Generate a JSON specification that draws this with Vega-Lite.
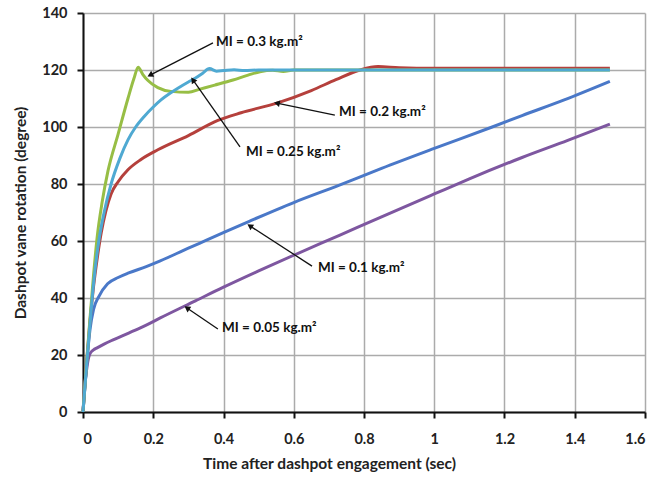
{
  "$schema": "https://vega.github.io/schema/vega-lite/v6.json",
  "width": 562,
  "height": 399,
  "autosize": "none",
  "padding": {"left": 83, "top": 13, "right": 26, "bottom": 65},
  "background": "white",
  "config": {
    "view": {"stroke": null},
    "font": "Lato",
    "axis": {
      "labelFont": "Lato", "labelFontWeight": "bold", "labelFontSize": 14.5, "labelColor": "#222",
      "titleFont": "Lato", "titleFontWeight": "bold", "titleFontSize": 15.5, "titleColor": "#222",
      "domainColor": "#111", "domainWidth": 2, "tickColor": "#111", "tickWidth": 2, "tickSize": 6,
      "gridColor": "#ababab", "gridWidth": 1.5
    }
  },
  "datasets": {
    "curves": [
      {"MI": "0.05", "t": 0, "rotation": 0}, {"MI": "0.05", "t": 0.005, "rotation": 9}, {"MI": "0.05", "t": 0.01, "rotation": 14.5}, {"MI": "0.05", "t": 0.015, "rotation": 18.5}, {"MI": "0.05", "t": 0.02, "rotation": 20.5}, {"MI": "0.05", "t": 0.03, "rotation": 21.8}, {"MI": "0.05", "t": 0.04, "rotation": 22.5}, {"MI": "0.05", "t": 0.06, "rotation": 23.8}, {"MI": "0.05", "t": 0.08, "rotation": 25}, {"MI": "0.05", "t": 0.13, "rotation": 27.7}, {"MI": "0.05", "t": 0.18, "rotation": 30.5}, {"MI": "0.05", "t": 0.22, "rotation": 33}, {"MI": "0.05", "t": 0.32, "rotation": 39}, {"MI": "0.05", "t": 0.4, "rotation": 43.8}, {"MI": "0.05", "t": 0.5, "rotation": 49.5}, {"MI": "0.05", "t": 0.6, "rotation": 55}, {"MI": "0.05", "t": 0.73, "rotation": 62}, {"MI": "0.05", "t": 0.85, "rotation": 68.5}, {"MI": "0.05", "t": 1.0, "rotation": 76.5}, {"MI": "0.05", "t": 1.1, "rotation": 81.8}, {"MI": "0.05", "t": 1.25, "rotation": 89.3}, {"MI": "0.05", "t": 1.38, "rotation": 95.3}, {"MI": "0.05", "t": 1.5, "rotation": 101},
      {"MI": "0.1", "t": 0, "rotation": 0}, {"MI": "0.1", "t": 0.005, "rotation": 8}, {"MI": "0.1", "t": 0.01, "rotation": 16}, {"MI": "0.1", "t": 0.02, "rotation": 29}, {"MI": "0.1", "t": 0.03, "rotation": 36}, {"MI": "0.1", "t": 0.045, "rotation": 40.5}, {"MI": "0.1", "t": 0.07, "rotation": 45}, {"MI": "0.1", "t": 0.1, "rotation": 47.2}, {"MI": "0.1", "t": 0.13, "rotation": 48.8}, {"MI": "0.1", "t": 0.18, "rotation": 51}, {"MI": "0.1", "t": 0.22, "rotation": 53}, {"MI": "0.1", "t": 0.3, "rotation": 57.5}, {"MI": "0.1", "t": 0.35, "rotation": 60.2}, {"MI": "0.1", "t": 0.475, "rotation": 67}, {"MI": "0.1", "t": 0.6, "rotation": 73.5}, {"MI": "0.1", "t": 0.73, "rotation": 79.6}, {"MI": "0.1", "t": 0.85, "rotation": 85.5}, {"MI": "0.1", "t": 1.0, "rotation": 92.5}, {"MI": "0.1", "t": 1.165, "rotation": 100}, {"MI": "0.1", "t": 1.25, "rotation": 104}, {"MI": "0.1", "t": 1.37, "rotation": 109.5}, {"MI": "0.1", "t": 1.5, "rotation": 116},
      {"MI": "0.2", "t": 0, "rotation": 0}, {"MI": "0.2", "t": 0.01, "rotation": 17}, {"MI": "0.2", "t": 0.02, "rotation": 32}, {"MI": "0.2", "t": 0.03, "rotation": 44}, {"MI": "0.2", "t": 0.04, "rotation": 53.5}, {"MI": "0.2", "t": 0.052, "rotation": 63}, {"MI": "0.2", "t": 0.065, "rotation": 70.5}, {"MI": "0.2", "t": 0.08, "rotation": 76.5}, {"MI": "0.2", "t": 0.1, "rotation": 80.8}, {"MI": "0.2", "t": 0.128, "rotation": 85}, {"MI": "0.2", "t": 0.165, "rotation": 88.6}, {"MI": "0.2", "t": 0.213, "rotation": 92}, {"MI": "0.2", "t": 0.3, "rotation": 97}, {"MI": "0.2", "t": 0.384, "rotation": 102.3}, {"MI": "0.2", "t": 0.45, "rotation": 105}, {"MI": "0.2", "t": 0.552, "rotation": 108.4}, {"MI": "0.2", "t": 0.65, "rotation": 112.8}, {"MI": "0.2", "t": 0.72, "rotation": 116.6}, {"MI": "0.2", "t": 0.789, "rotation": 120}, {"MI": "0.2", "t": 0.84, "rotation": 121.2}, {"MI": "0.2", "t": 0.9, "rotation": 120.8}, {"MI": "0.2", "t": 1.0, "rotation": 120.6}, {"MI": "0.2", "t": 1.5, "rotation": 120.6},
      {"MI": "0.3", "t": 0, "rotation": 0}, {"MI": "0.3", "t": 0.01, "rotation": 17}, {"MI": "0.3", "t": 0.02, "rotation": 33}, {"MI": "0.3", "t": 0.03, "rotation": 48}, {"MI": "0.3", "t": 0.04, "rotation": 61}, {"MI": "0.3", "t": 0.055, "rotation": 74}, {"MI": "0.3", "t": 0.071, "rotation": 84.5}, {"MI": "0.3", "t": 0.1, "rotation": 97.5}, {"MI": "0.3", "t": 0.128, "rotation": 110}, {"MI": "0.3", "t": 0.145, "rotation": 117}, {"MI": "0.3", "t": 0.157, "rotation": 121}, {"MI": "0.3", "t": 0.17, "rotation": 118.5}, {"MI": "0.3", "t": 0.185, "rotation": 116.3}, {"MI": "0.3", "t": 0.213, "rotation": 113.8}, {"MI": "0.3", "t": 0.25, "rotation": 112.5}, {"MI": "0.3", "t": 0.3, "rotation": 112.2}, {"MI": "0.3", "t": 0.333, "rotation": 113.3}, {"MI": "0.3", "t": 0.375, "rotation": 114.7}, {"MI": "0.3", "t": 0.427, "rotation": 116.5}, {"MI": "0.3", "t": 0.47, "rotation": 118.2}, {"MI": "0.3", "t": 0.504, "rotation": 119.4}, {"MI": "0.3", "t": 0.54, "rotation": 119.9}, {"MI": "0.3", "t": 0.57, "rotation": 119.5}, {"MI": "0.3", "t": 0.6, "rotation": 120}, {"MI": "0.3", "t": 0.7, "rotation": 120}, {"MI": "0.3", "t": 1.5, "rotation": 120},
      {"MI": "0.25", "t": 0, "rotation": 0}, {"MI": "0.25", "t": 0.01, "rotation": 16}, {"MI": "0.25", "t": 0.02, "rotation": 31}, {"MI": "0.25", "t": 0.03, "rotation": 45}, {"MI": "0.25", "t": 0.045, "rotation": 60}, {"MI": "0.25", "t": 0.06, "rotation": 70}, {"MI": "0.25", "t": 0.08, "rotation": 80}, {"MI": "0.25", "t": 0.105, "rotation": 89}, {"MI": "0.25", "t": 0.128, "rotation": 95.5}, {"MI": "0.25", "t": 0.15, "rotation": 100}, {"MI": "0.25", "t": 0.175, "rotation": 103.8}, {"MI": "0.25", "t": 0.2, "rotation": 107}, {"MI": "0.25", "t": 0.222, "rotation": 109.5}, {"MI": "0.25", "t": 0.25, "rotation": 112}, {"MI": "0.25", "t": 0.27, "rotation": 113.6}, {"MI": "0.25", "t": 0.3, "rotation": 115.8}, {"MI": "0.25", "t": 0.318, "rotation": 117}, {"MI": "0.25", "t": 0.34, "rotation": 118.8}, {"MI": "0.25", "t": 0.36, "rotation": 120.5}, {"MI": "0.25", "t": 0.38, "rotation": 119.6}, {"MI": "0.25", "t": 0.4, "rotation": 119.8}, {"MI": "0.25", "t": 0.43, "rotation": 120.1}, {"MI": "0.25", "t": 0.46, "rotation": 119.8}, {"MI": "0.25", "t": 0.5, "rotation": 120}, {"MI": "0.25", "t": 1.5, "rotation": 120}
    ],
    "notes": [
      {"id": "a", "label": "MI = 0.3 kg.m²", "tx": 0.376, "ty": 129.8, "ax": 0.37, "ay": 129.5, "hx": 0.191, "hy": 118.2},
      {"id": "b", "label": "MI = 0.2 kg.m²", "tx": 0.726, "ty": 105.3, "ax": 0.717, "ay": 104.2, "hx": 0.552, "hy": 108.4},
      {"id": "c", "label": "MI = 0.25 kg.m²", "tx": 0.461, "ty": 91.2, "ax": 0.447, "ay": 93, "hx": 0.313, "hy": 116.5},
      {"id": "d", "label": "MI = 0.1 kg.m²", "tx": 0.666, "ty": 50.5, "ax": 0.652, "ay": 51.2, "hx": 0.475, "hy": 65.3},
      {"id": "e", "label": "MI = 0.05 kg.m²", "tx": 0.393, "ty": 29.5, "ax": 0.384, "ay": 29.1, "hx": 0.296, "hy": 36.5}
    ]
  },
  "layer": [
    {
      "data": {"name": "curves"},
      "transform": [{"filter": "datum.MI !== '0.25'"}],
      "mark": {"type": "line", "strokeWidth": 3, "interpolate": "monotone"},
      "encoding": {
        "x": {"field": "t", "type": "quantitative", "scale": {"domain": [0, 1.6], "nice": false},
          "axis": {"values": [0, 0.2, 0.4, 0.6, 0.8, 1, 1.2, 1.4, 1.6], "format": "~g", "title": "Time after dashpot  engagement (sec)", "labelPadding": 14, "titleX": 246, "titleY": 51, "titleBaseline": "middle", "titleAlign": "center"}},
        "y": {"field": "rotation", "type": "quantitative", "scale": {"domain": [0, 140], "nice": false},
          "axis": {"values": [0, 20, 40, 60, 80, 100, 120, 140], "title": "Dashpot vane rotation (degree)", "labelPadding": 10, "titleX": -63, "titleY": 199.5, "titleBaseline": "middle", "titleAlign": "center", "titleAngle": -90}},
        "color": {"field": "MI", "type": "nominal",
          "scale": {"domain": ["0.05", "0.1", "0.2", "0.3", "0.25"], "range": ["#7E57A0", "#4A78C8", "#B5403C", "#97BE45", "#4FA9D2"]},
          "legend": null},
        "order": {"field": "t", "type": "quantitative"}
      }
    },
    {
      "data": {"name": "curves"},
      "transform": [{"filter": "datum.MI === '0.25'"}],
      "mark": {"type": "line", "strokeWidth": 3, "interpolate": "monotone", "color": "#4FA9D2"},
      "encoding": {
        "x": {"field": "t", "type": "quantitative"},
        "y": {"field": "rotation", "type": "quantitative"},
        "order": {"field": "t", "type": "quantitative"}
      }
    },
    {
      "data": {"name": "notes"},
      "mark": {"type": "rule", "color": "#111", "strokeWidth": 1.3},
      "encoding": {
        "x": {"field": "ax", "type": "quantitative"},
        "y": {"field": "ay", "type": "quantitative"},
        "x2": {"field": "hx"},
        "y2": {"field": "hy"}
      }
    },
    {
      "data": {"name": "notes"},
      "mark": {"type": "text", "align": "left", "baseline": "middle", "font": "Lato", "fontWeight": "bold", "fontSize": 13.5, "color": "#111", "dx": 1},
      "encoding": {
        "x": {"field": "tx", "type": "quantitative"},
        "y": {"field": "ty", "type": "quantitative"},
        "text": {"field": "label"}
      }
    },
    {
      "data": {"name": "notes"},
      "transform": [{"filter": "datum.id === 'a'"}],
      "mark": {"type": "point", "shape": "triangle-up", "filled": true, "color": "#111", "opacity": 1, "size": 45, "angle": 243},
      "encoding": {"x": {"field": "hx", "type": "quantitative"}, "y": {"field": "hy", "type": "quantitative"}}
    },
    {
      "data": {"name": "notes"},
      "transform": [{"filter": "datum.id === 'b'"}],
      "mark": {"type": "point", "shape": "triangle-up", "filled": true, "color": "#111", "opacity": 1, "size": 45, "angle": 282},
      "encoding": {"x": {"field": "hx", "type": "quantitative"}, "y": {"field": "hy", "type": "quantitative"}}
    },
    {
      "data": {"name": "notes"},
      "transform": [{"filter": "datum.id === 'c'"}],
      "mark": {"type": "point", "shape": "triangle-up", "filled": true, "color": "#111", "opacity": 1, "size": 45, "angle": 325},
      "encoding": {"x": {"field": "hx", "type": "quantitative"}, "y": {"field": "hy", "type": "quantitative"}}
    },
    {
      "data": {"name": "notes"},
      "transform": [{"filter": "datum.id === 'd'"}],
      "mark": {"type": "point", "shape": "triangle-up", "filled": true, "color": "#111", "opacity": 1, "size": 45, "angle": 303},
      "encoding": {"x": {"field": "hx", "type": "quantitative"}, "y": {"field": "hy", "type": "quantitative"}}
    },
    {
      "data": {"name": "notes"},
      "transform": [{"filter": "datum.id === 'e'"}],
      "mark": {"type": "point", "shape": "triangle-up", "filled": true, "color": "#111", "opacity": 1, "size": 45, "angle": 304},
      "encoding": {"x": {"field": "hx", "type": "quantitative"}, "y": {"field": "hy", "type": "quantitative"}}
    }
  ]
}
